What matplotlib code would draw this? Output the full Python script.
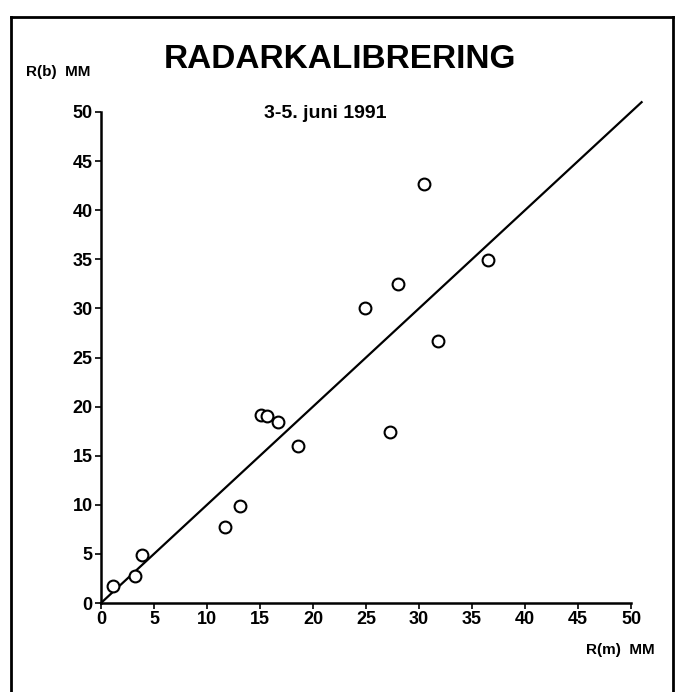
#!/usr/bin/env python3
"""Radar calibration scatter: gauge vs radar rainfall, 3-5 June 1991."""

import matplotlib

matplotlib.use("Agg")
import matplotlib.pyplot as plt
from matplotlib.lines import Line2D

# values
r_m = [1.1, 3.2, 3.9, 11.7, 13.1, 15.1, 15.7, 16.7, 18.6, 24.9, 27.3, 28.05, 30.5, 31.8, 36.5]
r_b = [1.7, 2.7, 4.9, 7.7, 9.9, 19.1, 19.0, 18.4, 16.0, 30.0, 17.4, 32.5, 42.7, 26.7, 34.9]
fit_x = [0, 51]
fit_y = [0, 51]
ticks = [0, 5, 10, 15, 20, 25, 30, 35, 40, 45, 50]

FONT = ["Liberation Sans Narrow", "Liberation Sans", "DejaVu Sans"]
plt.rcParams["font.family"] = FONT
plt.rcParams["font.weight"] = "bold"

fig = plt.figure(figsize=(6.75, 6.92), dpi=100)
ax = fig.add_axes([101 / 675, 1 - 603 / 692, 530 / 675, 491 / 692])

ax.plot(fit_x, fit_y, color="black", linewidth=1.6, clip_on=False)
ax.plot(r_m, r_b, linestyle="none", marker="o", markersize=8.5,
        markerfacecolor="white", markeredgecolor="black", markeredgewidth=1.5)

ax.set_xlim(0, 50)
ax.set_ylim(0, 50)
ax.set_xticks(ticks)
ax.set_yticks(ticks)
ax.tick_params(direction="out", length=4, width=1.2, labelsize=13, pad=2)
for side in ("top", "right"):
    ax.spines[side].set_visible(False)
for side in ("left", "bottom"):
    ax.spines[side].set_linewidth(1.8)

fig.text(340 / 675, 1 - 60 / 692, "RADARKALIBRERING", ha="center", va="center",
         fontsize=24, fontweight="bold")
fig.text(325 / 675, 1 - 113 / 692, "3-5. juni 1991", ha="center", va="center",
         fontsize=14, fontweight="bold")
fig.text(58 / 675, 1 - 72 / 692, "R(b)  MM", ha="center", va="center",
         fontsize=11, fontweight="bold")
fig.text(620 / 675, 1 - 650 / 692, "R(m)  MM", ha="center", va="center",
         fontsize=11, fontweight="bold")

# frame around the whole figure (left, top, right edges)
for xs, ys in [([11, 11], [692, 17]), ([11, 673], [17, 17]), ([673, 673], [17, 692])]:
    fig.add_artist(Line2D([x / 675 for x in xs], [1 - y / 692 for y in ys],
                          color="black", linewidth=2))

fig.savefig("out.png", dpi=100)
